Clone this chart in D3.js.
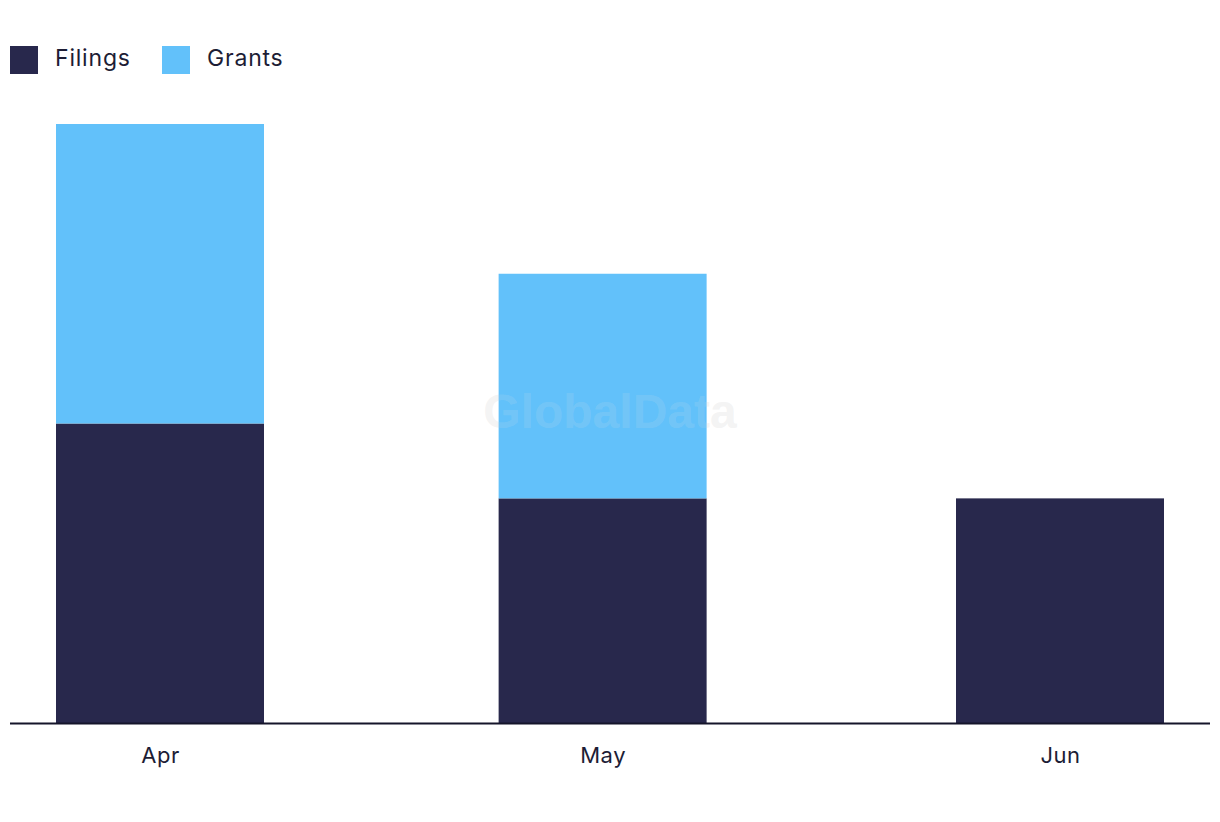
<!DOCTYPE html>
<html>
<head>
<meta charset="utf-8">
<script src="https://cdn.jsdelivr.net/npm/d3@7"></script>
<style>
  body { margin: 0; background: #fff; }
  text { font-family: Inter, "Noto Sans", sans-serif; fill: #1d1d35; }
</style>
</head>
<body>
<script>
// chart data
var months = ["2023-04-01", "2023-05-01", "2023-06-01"];
var monthLabels = ["Apr", "May", "Jun"];
var filings = [4, 3, 3];
var grants = [4, 3, 0];
var seriesNames = ["Filings", "Grants"];
var seriesColors = ["#28284c", "#62c1fa"];

var width = 1220, height = 822;
var baseY = 723, topY = 124;

var parse = d3.timeParse("%Y-%m-%d");
var dates = months.map(parse);

var rows = dates.map(function (d, i) {
    return { date: d, Filings: filings[i], Grants: grants[i] };
});

var x = d3.scaleTime()
    .domain([dates[0], dates[dates.length - 1]])
    .range([160, 1060]);

var y = d3.scaleLinear()
    .domain([0, 8])
    .range([baseY, topY]);

var barWidth = 208;

var svg = d3.select("body").append("svg")
    .attr("width", width)
    .attr("height", height);

// watermark
svg.append("text")
    .attr("x", 610)
    .attr("y", 428)
    .attr("text-anchor", "middle")
    .style("font-family", "Liberation Sans, Arial, sans-serif")
    .style("font-weight", "bold")
    .style("font-size", "48px")
    .style("fill", "#e6e6e6")
    .style("fill-opacity", 0.35)
    .text("GlobalData");

var stack = d3.stack().keys(seriesNames)(rows);

svg.selectAll(".series")
    .data(stack)
    .enter()
    .append("g")
    .attr("fill", function (d, i) { return seriesColors[i]; })
    .selectAll("rect")
    .data(function (d) { return d; })
    .enter()
    .append("rect")
    .attr("x", function (d) { return x(d.data.date) - barWidth / 2; })
    .attr("y", function (d) { return y(d[1]); })
    .attr("width", barWidth)
    .attr("height", function (d) { return y(d[0]) - y(d[1]); });

// faint watermark over the bars too
svg.append("text")
    .attr("x", 610)
    .attr("y", 428)
    .attr("text-anchor", "middle")
    .style("font-family", "Liberation Sans, Arial, sans-serif")
    .style("font-weight", "bold")
    .style("font-size", "48px")
    .style("fill", "#e6e6e6")
    .style("fill-opacity", 0.15)
    .text("GlobalData");

// x axis
var xAxis = d3.axisBottom(x)
    .tickValues(dates)
    .tickSize(0)
    .tickPadding(24)
    .tickFormat(function (d, i) { return monthLabels[i]; });

var gx = svg.append("g")
    .attr("transform", "translate(0," + baseY + ")")
    .call(xAxis);
gx.select(".domain").remove();
gx.selectAll("text")
    .style("font-family", "Inter, 'Noto Sans', sans-serif")
    .style("font-size", "22px")
    .style("letter-spacing", "0.5px")
    .attr("fill", "#1d1d35");

svg.append("line")
    .attr("x1", 10)
    .attr("x2", 1210)
    .attr("y1", baseY + 0.5)
    .attr("y2", baseY + 0.5)
    .attr("stroke", "#15152a")
    .attr("stroke-width", 2);

// legend
var legendX = [10, 162];
var legend = svg.selectAll(".legend")
    .data(seriesNames)
    .enter()
    .append("g")
    .attr("transform", function (d, i) { return "translate(" + legendX[i] + ",46)"; });

legend.append("rect")
    .attr("width", 28)
    .attr("height", 28)
    .attr("fill", function (d, i) { return seriesColors[i]; });

legend.append("text")
    .attr("x", 45)
    .attr("y", 20)
    .style("font-size", "23px")
    .style("letter-spacing", "0.8px")
    .text(function (d) { return d; });
</script>
</body>
</html>
